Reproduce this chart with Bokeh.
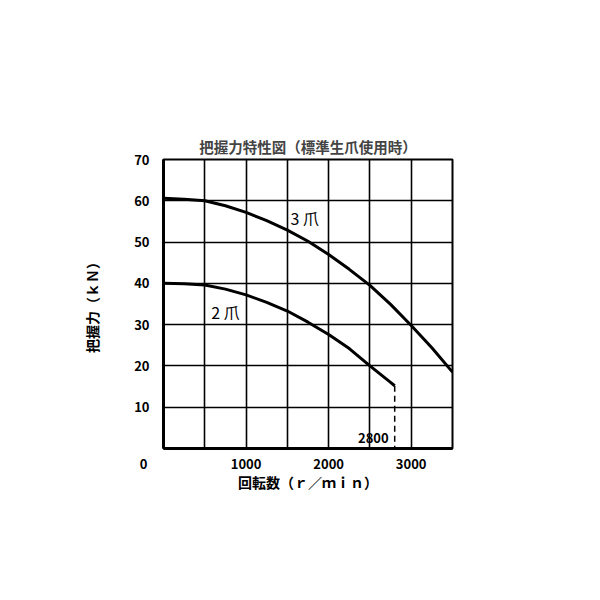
from bokeh.plotting import figure
from bokeh.models import FixedTicker, Range1d, Label, LinearAxis
from bokeh.core.properties import value
from bokeh.embed import file_html
from bokeh.resources import INLINE

title = "把握力特性図（標準生爪使用時）"
x_label = "回転数（ｒ／ｍｉｎ）"
y_label = "把握力（ｋＮ）"

rpm_3 = [0, 250, 500, 750, 1000, 1250, 1500, 1750, 2000, 2250, 2500, 2750, 3000, 3250, 3500]
force_3 = [60.6, 60.4, 60.0, 58.8, 57.2, 55.2, 52.9, 50.2, 47.0, 43.4, 39.5, 34.9, 29.8, 24.4, 18.5]

rpm_2 = [0, 250, 500, 750, 1000, 1250, 1500, 1750, 2000, 2250, 2500, 2750, 2800]
force_2 = [40.0, 39.9, 39.6, 38.6, 37.2, 35.4, 33.3, 30.6, 27.6, 24.2, 20.0, 16.0, 15.2]

limit_rpm = 2800
limit_force = 15.2

x_ticks = [1000, 2000, 3000]
y_ticks = [10, 20, 30, 40, 50, 60, 70]
origin_tick = [0]
x_grid = [500, 1000, 1500, 2000, 2500, 3000]
y_grid = [10, 20, 30, 40, 50, 60]

series_labels = ["3 爪", "2 爪"]
label_x = [1711, 752]
label_y = [55.8, 33.1]

JP = "Noto Sans CJK JP"

p = figure(frame_width=289, frame_height=289,
           min_border_left=163, min_border_top=159,
           min_border_right=140, min_border_bottom=120,
           x_range=Range1d(0, 3500), y_range=Range1d(0, 70),
           output_backend="svg", toolbar_location=None,
           title=title)

p.title.align = "center"
p.title.text_font = JP
p.title.text_font_size = "14.5px"
p.title.text_font_style = "bold"
p.title.standoff = 5

p.outline_line_color = "black"
p.outline_line_width = 2
p.outline_line_alpha = 1

p.xaxis.ticker = FixedTicker(ticks=x_ticks)
p.yaxis.ticker = FixedTicker(ticks=y_ticks)
p.xgrid.ticker = FixedTicker(ticks=x_grid)
p.ygrid.ticker = FixedTicker(ticks=y_grid)
for g in (p.xgrid, p.ygrid):
    g.grid_line_color = "black"
    g.grid_line_width = 1.6
    g.grid_line_alpha = 1

# outer left axis carrying only the shared origin label "0" (set in the x-label row)
zero_axis = LinearAxis(ticker=FixedTicker(ticks=origin_tick),
                       axis_line_color=None, major_label_standoff=-74,
                       major_label_overrides={0: "\n\n0"})
p.add_layout(zero_axis, "left")

for ax in (p.xaxis[0], p.yaxis[0], zero_axis):
    ax.major_tick_line_color = None
    ax.minor_tick_line_color = None
    ax.major_label_text_font = JP
    ax.major_label_text_font_size = "13px"
    ax.major_label_text_font_style = "bold"
    ax.major_label_text_color = "black"
    ax.axis_label_text_font = JP
    ax.axis_label_text_font_size = "14px"
    ax.axis_label_text_font_style = "bold"
    ax.axis_label_text_color = "black"
zero_axis.major_label_text_line_height = 0.8
for ax in (p.xaxis[0], p.yaxis[0]):
    ax.axis_line_width = 3
    ax.axis_line_color = "black"

p.xaxis[0].axis_label = x_label
p.yaxis[0].axis_label = y_label
p.xaxis[0].major_label_standoff = 4
p.yaxis[0].major_label_standoff = 8
p.xaxis[0].axis_label_standoff = 0
p.yaxis[0].axis_label_standoff = 29

p.line(rpm_3, force_3, line_color="black", line_width=3)
p.line(rpm_2, force_2, line_color="black", line_width=3)
p.line([limit_rpm, limit_rpm], [limit_force, 0], line_color="black",
       line_width=1.5, line_dash="6 4")

p.text(x=label_x, y=label_y, text=series_labels, text_font=value(JP),
       text_font_size="16px", text_align="center", text_baseline="middle",
       text_color="black")

p.add_layout(Label(x=limit_rpm, y=0, x_offset=-6, y_offset=6, text=str(limit_rpm),
                   text_font=JP, text_font_size="13px", text_font_style="bold",
                   text_align="right", text_baseline="bottom", text_color="black"))

open("out.html", "w").write(file_html(p, INLINE))
